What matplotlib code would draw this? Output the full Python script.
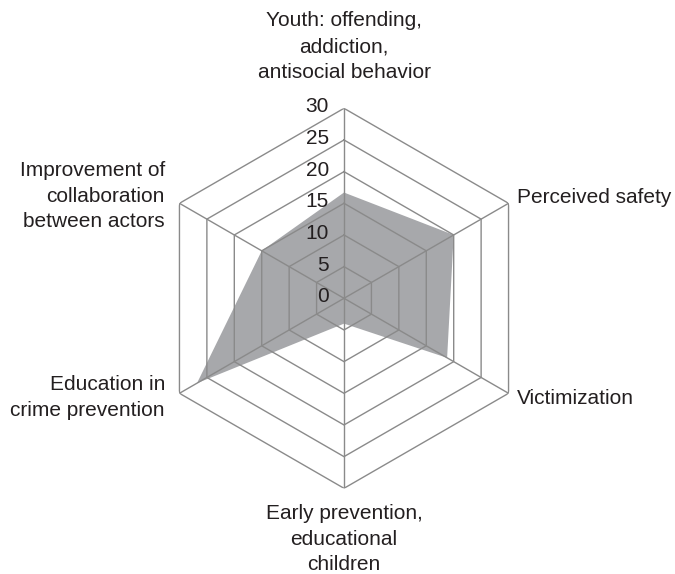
import numpy as np
import matplotlib
matplotlib.use("Agg")
import matplotlib.pyplot as plt

plt.rcParams['font.family'] = ['Liberation Sans', 'DejaVu Sans']

# Axis categories, clockwise from the top
categories = [
    "Youth: offending,\naddiction,\nantisocial behavior",
    "Perceived safety",
    "Victimization",
    "Early prevention,\neducational\nchildren",
    "Education in\ncrime prevention",
    "Improvement of\ncollaboration\nbetween actors",
]
scores = [16.7, 20.0, 18.8, 4.0, 26.8, 15.0]
ring_values = [0, 5, 10, 15, 20, 25, 30]
r_max = 30

text_color = "#231f20"
grid_color = "#8a8a8a"
fill_color = "#a7a8ab"
fs = 15

fig = plt.figure(figsize=(6.75, 5.74), dpi=100)
ax = fig.add_axes([0.22815, 0.1493, 0.56296, 0.66202], projection="polar")
ax.set_theta_zero_location("N")
ax.set_theta_direction(-1)
ax.set_ylim(0, r_max)
ax.set_xticks([])
ax.set_yticks([])
ax.grid(False)
ax.spines["polar"].set_visible(False)
ax.patch.set_visible(False)

n = len(categories)
angles = np.arange(n) * 2 * np.pi / n
closed = np.append(angles, angles[0])

# Filled score polygon
ax.fill(closed, scores + scores[:1], color=fill_color, lw=0, zorder=1)

# Hexagonal rings and spokes on top of the fill
for r in ring_values[1:]:
    ax.plot(closed, [r] * (n + 1), color=grid_color, lw=1.0, zorder=2,
            solid_joinstyle="miter")
for a in angles:
    ax.plot([a, a], [0, r_max], color=grid_color, lw=1.0, zorder=2)

# Scale labels along the top spoke
for r in ring_values:
    ax.annotate(str(r), xy=(0, r), xytext=(-15, -4), textcoords="offset pixels",
                ha="right", va="baseline", fontsize=fs, color=text_color,
                annotation_clip=False)

# Category labels around the outer ring
label_style = [
    dict(off=(0, 97), ha="center", va="top"),
    dict(off=(8, 0), ha="left", va="baseline"),
    dict(off=(8, -10.5), ha="left", va="baseline"),
    dict(off=(0, -15.5), ha="center", va="top"),
    dict(off=(-14.5, 18), ha="right", va="top"),
    dict(off=(-14.5, 42.5), ha="right", va="top"),
]
for a, text, st in zip(angles, categories, label_style):
    ax.annotate(text, xy=(a, r_max), xytext=st["off"], textcoords="offset pixels",
                ha=st["ha"], va=st["va"], multialignment=st["ha"],
                fontsize=fs, color=text_color, linespacing=1.45,
                annotation_clip=False)

fig.savefig("out.png", dpi=100)
